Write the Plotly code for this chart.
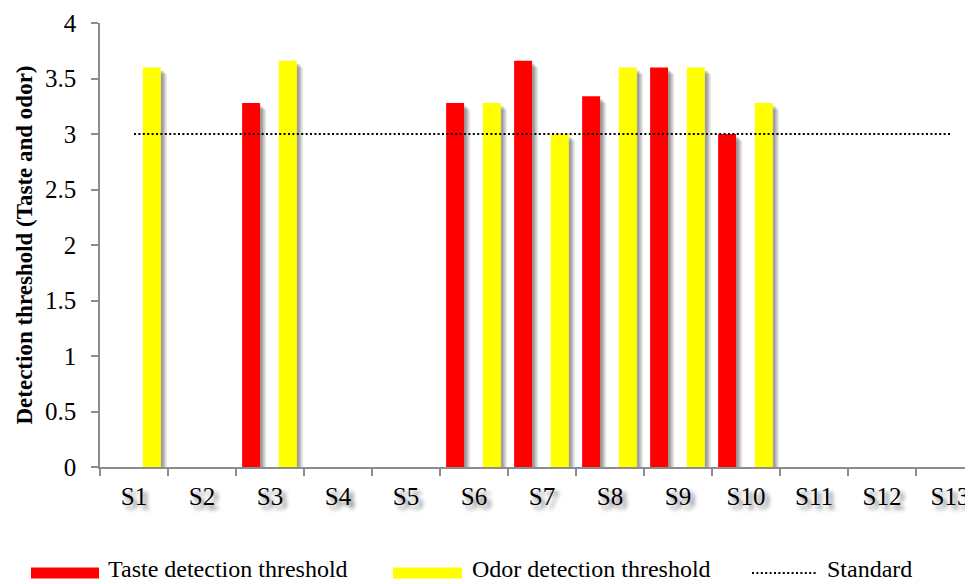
import plotly.graph_objects as go

# ---------------- data ----------------
categories = ["S1", "S2", "S3", "S4", "S5", "S6", "S7", "S8", "S9", "S10", "S11", "S12", "S13"]
taste_threshold = [None, None, 3.28, None, None, 3.28, 3.66, 3.34, 3.60, 3.00, None, None, None]
odor_threshold = [3.60, None, 3.66, None, None, 3.28, 3.00, 3.60, 3.60, 3.28, None, None, None]
standard = [3, 3, 3, 3, 3, 3, 3, 3, 3, 3, 3, 3, 3]
y_tick_values = [0, 0.5, 1, 1.5, 2, 2.5, 3, 3.5, 4]
y_tick_labels = ["0", "0.5", "1", "1.5", "2", "2.5", "3", "3.5", "4"]
series_names = ["Taste detection threshold", "Odor detection threshold", "Standard"]

# ---------------- geometry / style ----------------
# the page body has an 8px default margin, so the figure is placed at (8, 8)
OFF = 8
W, H = 973 - OFF, 584 - OFF
PLOT_LEFT, PLOT_TOP, PLOT_BOTTOM = 100, 23, 467   # in window pixels
L, R = PLOT_LEFT - OFF, 0
T = PLOT_TOP - OFF
B = H - (PLOT_BOTTOM - OFF)
PW = W - L - R
PH = H - T - B
CAT_PX = 68.0
X_RANGE = [-0.5, -0.5 + PW / CAT_PX]
FONT = "Liberation Serif, Times New Roman, serif"
RED = "#FF0000"
YELLOW = "#FFFF00"
BAR_W = 0.265
OFFSETS = {"taste": -0.41, "odor": 0.13}


def px_x(px):
    return (px - PLOT_LEFT) / PW


def px_y(py):
    return (PLOT_BOTTOM - py) / PH


fig = go.Figure()

# soft drop shadows behind the bars (derived from the same data)
for vals, key in [(taste_threshold, "taste"), (odor_threshold, "odor")]:
    for dx, dy, alpha in [(0.09, 0.06, 0.10), (0.065, 0.045, 0.14), (0.04, 0.03, 0.18)]:
        sh = [None if v is None else v - dy for v in vals]
        fig.add_trace(go.Bar(
            x=categories, y=sh, width=BAR_W, offset=OFFSETS[key] + dx,
            marker=dict(color=f"rgba(0,0,0,{alpha})", line=dict(width=0)),
            showlegend=False, hoverinfo="skip",
        ))

fig.add_trace(go.Bar(
    x=categories, y=taste_threshold, width=BAR_W, offset=OFFSETS["taste"],
    name=series_names[0], marker=dict(color=RED, line=dict(width=0)),
))
fig.add_trace(go.Bar(
    x=categories, y=odor_threshold, width=BAR_W, offset=OFFSETS["odor"],
    name=series_names[1], marker=dict(color=YELLOW, line=dict(width=0)),
))
fig.add_trace(go.Scatter(
    x=categories, y=standard, mode="lines", name=series_names[2],
    line=dict(color="black", width=2, dash="2px,2.4px"),
))

# ---------------- manual legend ----------------
shapes = []
annotations = []
legend_y = 573
items = [
    ("rect", RED, 31, 99, 106, series_names[0]),
    ("rect", YELLOW, 393, 462, 470, series_names[1]),
    ("line", "black", 752, 818, 825, series_names[2]),
]
for kind, color, x0, x1, tx, label in items:
    if kind == "rect":
        shapes.append(dict(type="rect", xref="paper", yref="paper",
                           x0=px_x(x0), x1=px_x(x1), y0=px_y(legend_y + 5.5), y1=px_y(legend_y - 5.5),
                           fillcolor=color, line=dict(width=0), layer="above"))
    else:
        shapes.append(dict(type="line", xref="paper", yref="paper",
                           x0=px_x(x0), x1=px_x(x1), y0=px_y(legend_y), y1=px_y(legend_y),
                           line=dict(color=color, width=2, dash="2px,2.4px")))
    annotations.append(dict(text=label, xref="paper", yref="paper", x=px_x(tx), y=px_y(583.5),
                            xanchor="left", yanchor="bottom", showarrow=False,
                            font=dict(family=FONT, size=24, color="black")))

fig.update_layout(
    width=W, height=H,
    margin=dict(l=L, r=R, t=T, b=B, pad=0),
    paper_bgcolor="white", plot_bgcolor="white",
    barmode="overlay",
    showlegend=False,
    font=dict(family=FONT, color="black"),
    shapes=shapes,
    annotations=annotations,
)

fig.update_xaxes(
    type="category", categoryorder="array", categoryarray=categories,
    range=X_RANGE,
    showline=True, linecolor="#8c8c8c", linewidth=1.5,
    ticks="outside", tickson="boundaries", ticklen=7, tickcolor="#8c8c8c", tickwidth=1.5,
    showgrid=False, zeroline=False,
    tickfont=dict(family=FONT, size=25, color="black", shadow="4px 4px 4px rgba(0,0,0,0.55)"),
    ticklabelstandoff=6,
)
fig.update_yaxes(
    range=[0, 4], tickvals=y_tick_values, ticktext=y_tick_labels,
    showline=True, linecolor="#8c8c8c", linewidth=1.5,
    ticks="outside", ticklen=7, tickcolor="#8c8c8c", tickwidth=1.5,
    showgrid=False, zeroline=False,
    tickfont=dict(family=FONT, size=25, color="black"),
    ticklabelstandoff=10,
    title=dict(text="<b>Detection threshold (Taste and odor)</b>",
               font=dict(family=FONT, size=23, color="black"), standoff=6),
)

fig.write_html("out.html")
